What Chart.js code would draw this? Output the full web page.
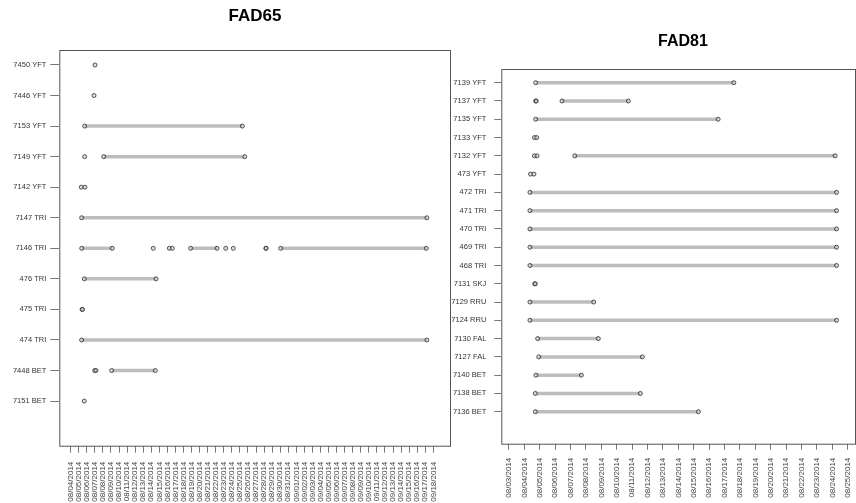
<!DOCTYPE html>
<html>
<head>
<meta charset="utf-8">
<script src="https://cdn.jsdelivr.net/npm/chart.js@4.4.1/dist/chart.umd.min.js"></script>
<style>
  html, body { margin: 0; padding: 0; background: #fff; }
  #wrap { position: relative; width: 856px; height: 503px; overflow: hidden; }
  #wrap div { position: absolute; top: 0; }
</style>
</head>
<body>
<div id="wrap">
  <div style="left:0;width:452px;height:503px"><canvas id="fad65"></canvas></div>
  <div style="left:450px;width:406px;height:503px"><canvas id="fad81"></canvas></div>
</div>
<script>
// FAD65 - fish (top to bottom) and detection periods, in days from the first date label
const fad65Fish = ['7450 YFT', '7446 YFT', '7153 YFT', '7149 YFT', '7142 YFT', '7147 TRI',
  '7146 TRI', '476 TRI', '475 TRI', '474 TRI', '7448 BET', '7151 BET'];
const fad65Detections = [
  [[3.02]],
  [[2.9]],
  [[1.74, 21.3]],
  [[1.74], [4.1, 21.6]],
  [[1.32], [1.77]],
  [[1.36, 44.2]],
  [[1.37, 5.16], [10.25], [12.24], [12.61], [14.89, 18.16], [19.24], [20.18], [24.22], [24.26], [26.06, 44.13]],
  [[1.69, 10.6]],
  [[1.42], [1.46]],
  [[1.36, 44.2]],
  [[2.98], [3.14], [5.09, 10.5]],
  [[1.69]]
];
const fad65Dates = ['08/04/2014', '08/05/2014', '08/06/2014', '08/07/2014', '08/08/2014', '08/09/2014',
  '08/10/2014', '08/11/2014', '08/12/2014', '08/13/2014', '08/14/2014', '08/15/2014', '08/16/2014',
  '08/17/2014', '08/18/2014', '08/19/2014', '08/20/2014', '08/21/2014', '08/22/2014', '08/23/2014',
  '08/24/2014', '08/25/2014', '08/26/2014', '08/27/2014', '08/28/2014', '08/29/2014', '08/30/2014',
  '08/31/2014', '09/01/2014', '09/02/2014', '09/03/2014', '09/04/2014', '09/05/2014', '09/06/2014',
  '09/07/2014', '09/08/2014', '09/09/2014', '09/10/2014', '09/11/2014', '09/12/2014', '09/13/2014',
  '09/14/2014', '09/15/2014', '09/16/2014', '09/17/2014', '09/18/2014'];

// FAD81
const fad81Fish = ['7139 YFT', '7137 YFT', '7135 YFT', '7133 YFT', '7132 YFT', '473 YFT', '472 TRI',
  '471 TRI', '470 TRI', '469 TRI', '468 TRI', '7131 SKJ', '7129 RRU', '7124 RRU', '7130 FAL',
  '7127 FAL', '7140 BET', '7138 BET', '7136 BET'];
const fad81Detections = [
  [[1.73, 14.6]],
  [[1.73], [1.77], [3.44, 7.75]],
  [[1.73, 13.58]],
  [[1.65], [1.8]],
  [[1.65], [1.82], [4.27, 21.18]],
  [[1.4], [1.62]],
  [[1.36, 21.27]],
  [[1.36, 21.27]],
  [[1.36, 21.27]],
  [[1.36, 21.27]],
  [[1.36, 21.27]],
  [[1.67], [1.71]],
  [[1.36, 5.5]],
  [[1.36, 21.27]],
  [[1.86, 5.8]],
  [[1.93, 8.66]],
  [[1.75, 4.7]],
  [[1.71, 8.53]],
  [[1.71, 12.3]]
];
const fad81Dates = ['08/03/2014', '08/04/2014', '08/05/2014', '08/06/2014', '08/07/2014', '08/08/2014',
  '08/09/2014', '08/10/2014', '08/11/2014', '08/12/2014', '08/13/2014', '08/14/2014', '08/15/2014',
  '08/16/2014', '08/17/2014', '08/18/2014', '08/19/2014', '08/20/2014', '08/21/2014', '08/22/2014',
  '08/23/2014', '08/24/2014', '08/25/2014'];

const FONT = '"Liberation Sans", Arial, sans-serif';

const boxAndTitle = {
  id: 'boxAndTitle',
  afterDraw(chart, args, opts) {
    const { ctx, chartArea: a } = chart;
    ctx.save();
    ctx.strokeStyle = '#555';
    ctx.lineWidth = 1;
    ctx.strokeRect(a.left + 0.5, a.top + 0.5, a.right - a.left, a.bottom - a.top);
    ctx.fillStyle = '#000';
    ctx.font = 'bold ' + opts.size + 'px ' + FONT;
    ctx.textAlign = 'center';
    ctx.textBaseline = 'middle';
    ctx.fillText(opts.text, opts.x, opts.y);
    ctx.restore();
  }
};

function makePanel(id, title, fish, detections, dates, lay) {
  const n = fish.length;
  const datasets = [];
  const pts = [];
  detections.forEach((row, r) => {
    const y = n - r;
    row.forEach(d => {
      if (d.length > 1) {
        datasets.push({
          type: 'line',
          data: [{ x: d[0], y: y }, { x: d[1], y: y }],
          borderColor: '#bdbdbd',
          borderWidth: 3.5,
          borderCapStyle: 'butt',
          pointRadius: 0,
          order: 1
        });
      }
      d.forEach(t => pts.push({ x: t, y: y }));
    });
  });
  datasets.push({
    type: 'scatter',
    data: pts,
    pointRadius: 2,
    pointBorderWidth: 1,
    pointBorderColor: 'rgba(45,45,45,0.8)',
    pointBackgroundColor: 'rgba(190,190,190,0.5)',
    order: 0
  });

  new Chart(document.getElementById(id), {
    type: 'scatter',
    data: { datasets },
    options: {
      responsive: true,
      maintainAspectRatio: false,
      animation: false,
      layout: { autoPadding: false, padding: { top: lay.top, left: 0, right: lay.right, bottom: 0 } },
      plugins: {
        legend: { display: false },
        tooltip: { enabled: false },
        boxAndTitle: { text: title, x: lay.titleX, y: lay.titleY, size: lay.titleSize }
      },
      scales: {
        x: {
          type: 'linear',
          min: lay.xMin,
          max: lay.xMax,
          afterBuildTicks: s => { s.ticks = dates.map((_, i) => ({ value: i })); },
          afterFit: s => {
            s.height = lay.xHeight;
            s.paddingLeft = 0;
            s.paddingRight = 0;
          },
          border: { display: false },
          grid: { drawOnChartArea: false, drawTicks: true, tickLength: lay.xTick, color: '#777' },
          ticks: {
            autoSkip: false,
            minRotation: 90,
            maxRotation: 90,
            padding: lay.xPad,
            color: '#444',
            font: { family: FONT, size: 8 },
            callback: (v, i) => dates[i]
          }
        },
        y: {
          type: 'linear',
          min: lay.yMin,
          max: lay.yMax,
          afterBuildTicks: s => { s.ticks = fish.map((_, i) => ({ value: i + 1 })); },
          afterFit: s => {
            s.width = lay.left;
            s.paddingTop = 0;
            s.paddingBottom = 0;
          },
          border: { display: false },
          grid: { drawOnChartArea: false, drawTicks: true, tickLength: lay.yTick, color: '#777' },
          ticks: {
            autoSkip: false,
            padding: lay.yPad,
            color: '#333',
            font: { family: FONT, size: 7.5 },
            callback: (v, i) => fish[n - 1 - i]
          }
        }
      }
    },
    plugins: [boxAndTitle]
  });
}

makePanel('fad65', 'FAD65', fad65Fish, fad65Detections, fad65Dates, {
  top: 50, left: 59.3, right: 2, xHeight: 57.3,
  xMin: -1.41, xMax: 47.07, yMin: -0.46, yMax: 12.49,
  xTick: 7, xPad: 9, yTick: 9, yPad: 4,
  titleX: 255, titleY: 16, titleSize: 17
});

makePanel('fad81', 'FAD81', fad81Fish, fad81Detections, fad81Dates, {
  top: 69, left: 51.3, right: 1, xHeight: 59.3,
  xMin: -0.5, xMax: 22.47, yMin: -0.75, yMax: 19.75,
  xTick: 6, xPad: 8, yTick: 7, yPad: 8,
  titleX: 233, titleY: 41.7, titleSize: 16
});
</script>
</body>
</html>
